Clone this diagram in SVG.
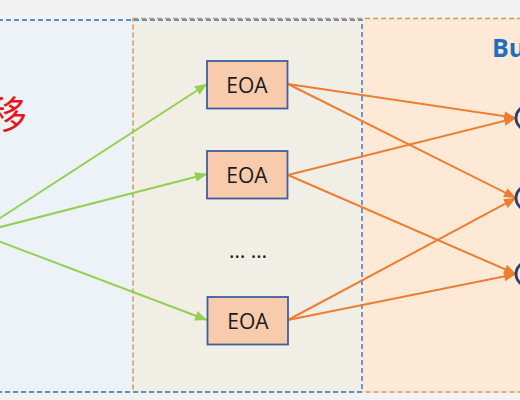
<svg xmlns="http://www.w3.org/2000/svg" width="520" height="400" viewBox="0 0 520 400">
<defs>
<style>
.eoa rect{fill:#f8cbad;stroke:#3e5f9c;stroke-width:1.8}
.eoa text,.dots{font-family:"Open Sans","Noto Sans",sans-serif;font-size:21px;fill:#1a1a1a;text-anchor:middle}
.g{stroke:#92d050;stroke-width:2;fill:none;marker-end:url(#ag)}
.o{stroke:#ed7d31;stroke-width:2;fill:none;marker-end:url(#ao)}
.node ellipse{fill:#fde9d5;stroke:#2f3f6f;stroke-width:2.8}
</style>
<marker id="ag" markerUnits="userSpaceOnUse" markerWidth="12" markerHeight="10" refX="12" refY="5" orient="auto"><path d="M0,0 L12,5 L0,10 z" fill="#92d050"/></marker>
<marker id="ao" markerUnits="userSpaceOnUse" markerWidth="12" markerHeight="10" refX="12" refY="5" orient="auto"><path d="M0,0 L12,5 L0,10 z" fill="#ed7d31"/></marker>
</defs>
<rect x="0" y="0" width="520" height="400" fill="#f2f2f2"/>
<g id="regions">
<rect x="-10" y="20" width="372" height="372" fill="#edf2f8"/>
<rect x="133" y="18.5" width="400" height="373.5" fill="#fde9d5"/>
<rect x="133" y="20" width="229" height="372" fill="#f1eee6"/>
<rect x="133" y="18.5" width="400" height="373.5" fill="none" stroke="#d29a62" stroke-width="1.6" stroke-dasharray="5 3"/>
<rect x="-10" y="20" width="372" height="372" fill="none" stroke="#5b8fc9" stroke-width="1.8" stroke-dasharray="5 3"/>
</g>
<text x="27" y="128" font-family="'Noto Sans CJK SC',sans-serif" font-size="38" fill="#e8141b" text-anchor="end">移</text>
<text x="492" y="57" font-family="'Open Sans','Noto Sans',sans-serif" font-size="25" font-weight="bold" fill="#1f6fc0">Bu</text>
<g id="connectors">
<path class="g" d="M-23,233 L207,84"/>
<path class="g" d="M-23,233 L207,174"/>
<path class="g" d="M-23,233 L207,320"/>
<path class="o" d="M288,84 L516,118"/>
<path class="o" d="M288,84 L516,198"/>
<path class="o" d="M288,175 L516,118"/>
<path class="o" d="M288,175 L516,274"/>
<path class="o" d="M288,320 L516,198"/>
<path class="o" d="M288,320 L516,274"/>
</g>
<g id="eoa1" class="eoa"><rect x="207" y="61" width="80.5" height="47.5"/><text x="247" y="92.5">EOA</text></g>
<g id="eoa2" class="eoa"><rect x="207" y="151" width="80.5" height="47.5"/><text x="247" y="182.5">EOA</text></g>
<g id="eoa3" class="eoa"><rect x="207.5" y="297" width="80.5" height="47.5"/><text x="248" y="328.5">EOA</text></g>
<text class="dots" x="248" y="258">… …</text>
<g id="n1" class="node"><ellipse cx="528" cy="118" rx="12" ry="12"/></g>
<g id="n2" class="node"><ellipse cx="528" cy="198" rx="12" ry="12"/></g>
<g id="n3" class="node"><ellipse cx="528" cy="274" rx="12" ry="12"/></g>
</svg>
